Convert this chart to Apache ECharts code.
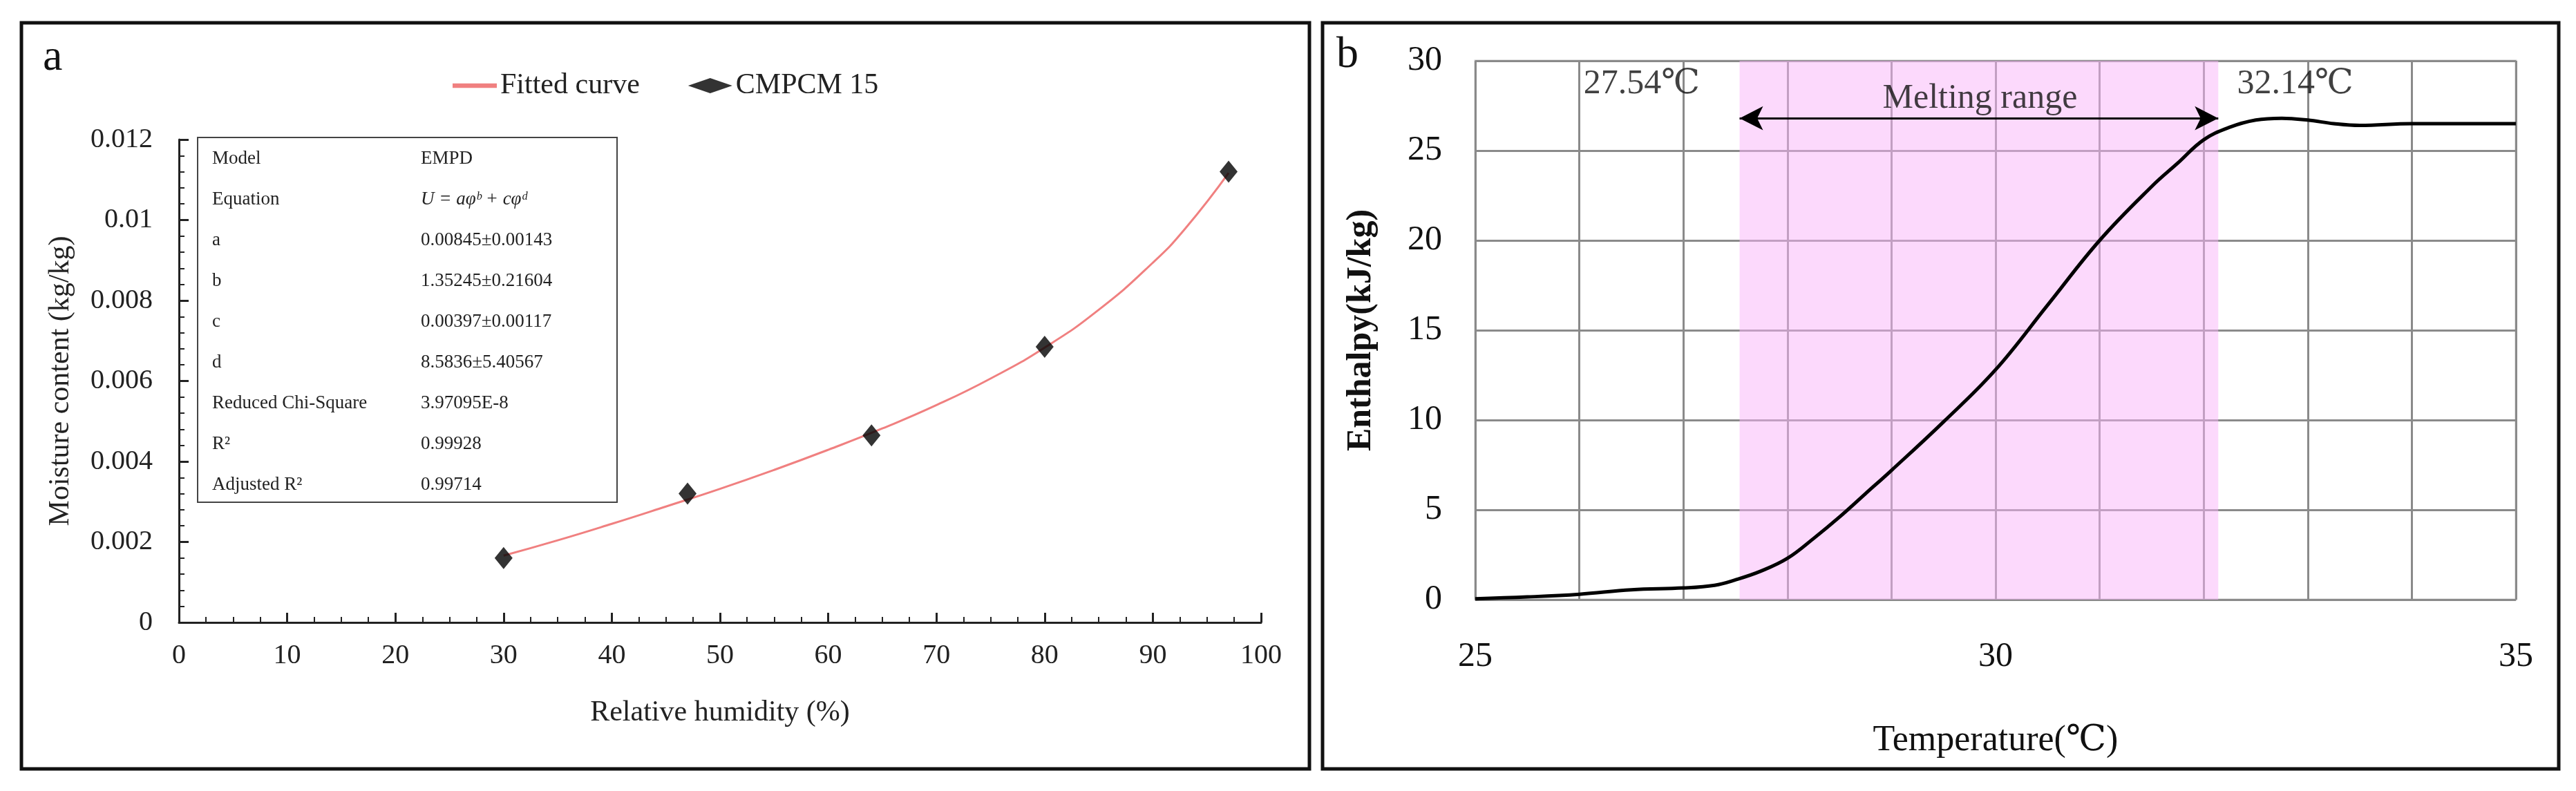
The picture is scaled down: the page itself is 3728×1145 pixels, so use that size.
<!DOCTYPE html>
<html><head><meta charset="utf-8">
<script src="https://cdn.jsdelivr.net/npm/echarts@6/dist/echarts.min.js"></script>
<style>html,body{margin:0;padding:0;background:#fff}#c{width:3728px;height:1145px}</style>
</head><body><div id="c"></div>
<script>
// Panel a data
const rhPoints = [30, 47, 64, 80, 97];
const moisture = [0.0016, 0.0032, 0.00465, 0.00685, 0.0112];
const fitX = [30, 35, 40, 45, 50, 55, 60, 65, 70, 75, 80, 85, 90, 93, 97];
const fitY = [0.00166, 0.00204, 0.00245, 0.00288, 0.00332, 0.00379, 0.00429, 0.00482, 0.0054, 0.00606, 0.00683, 0.00777, 0.00894, 0.00979, 0.01117];
const tableRows = [["Model","EMPD"],["Equation","U = aφ\u1D47 + cφ\u1D48"],["a","0.00845±0.00143"],["b","1.35245±0.21604"],["c","0.00397±0.00117"],["d","8.5836±5.40567"],["Reduced Chi-Square","3.97095E-8"],["R²","0.99928"],["Adjusted R²","0.99714"]];
// Panel b data
const tempX = [25, 25.5, 26, 26.5, 27, 27.3, 27.5, 27.75, 28, 28.25, 28.5, 28.75, 29, 29.5, 30, 30.5, 31, 31.5, 31.75, 32, 32.25, 32.5, 32.75, 33, 33.25, 33.5, 34, 35];
const enthalpy = [0.05, 0.15, 0.3, 0.55, 0.65, 0.8, 1.1, 1.6, 2.3, 3.4, 4.6, 5.9, 7.2, 9.9, 12.8, 16.4, 20.0, 23.0, 24.3, 25.6, 26.3, 26.7, 26.8, 26.7, 26.5, 26.4, 26.5, 26.5];
const meltStart = 27.54, meltEnd = 32.14;

const F = '"Liberation Serif","DejaVu Serif",serif';
const chart = echarts.init(document.getElementById('c'));
const tableGraphics = [];
tableRows.forEach((r, i) => {
  tableGraphics.push({type:'text', left:307, top:216 + i*59, style:{text:r[0], font:'27px '+F, fill:'#222'}});
  tableGraphics.push({type:'text', left:609, top:216 + i*59, style:{text:r[1], font:(i===1?'italic ':'')+'27px '+F, fill:'#222'}});
});
chart.setOption({
  animation:false,
  graphic:[
    {type:'rect', shape:{x:31,y:33,width:1864,height:1080}, style:{fill:'none', stroke:'#111', lineWidth:5}},
    {type:'rect', shape:{x:1914,y:33,width:1789,height:1080}, style:{fill:'none', stroke:'#111', lineWidth:5}},
    {type:'text', left:62, top:52, style:{text:'a', font:'64px '+F, fill:'#111'}},
    {type:'text', left:1934, top:48, style:{text:'b', font:'64px '+F, fill:'#111'}},
    {type:'rect', shape:{x:286,y:199,width:607,height:528}, style:{fill:'#fff', stroke:'#444', lineWidth:2}},
    ...tableGraphics
  ],
  legend:{left:650, top:98, itemGap:70, itemHeight:22,
    textStyle:{fontFamily:F, fontSize:42, color:'#222'},
    data:[{name:'Fitted curve', icon:'path://M0,0L10,0L10,1L0,1Z', itemStyle:{}}, {name:'CMPCM 15', icon:'diamond'}],
    itemWidth:64},
  grid:[
    {left:259, top:202, width:1566, height:699},
    {left:2135, top:88, width:1506, height:780, show:true, borderColor:'#c8c8c8', borderWidth:3, backgroundColor:'#fff'}
  ],
  xAxis:[
    {gridIndex:0, type:'value', min:0, max:100, interval:10,
     name:'Relative humidity (%)', nameLocation:'middle', nameGap:110, nameTextStyle:{fontFamily:F, fontSize:42, color:'#222'},
     axisLine:{lineStyle:{color:'#222', width:3}}, axisTick:{inside:true, length:14, lineStyle:{color:'#222', width:3}},
     minorTick:{show:true, splitNumber:4, length:8, lineStyle:{color:'#222', width:2}},
     axisLabel:{fontFamily:F, fontSize:40, color:'#222', margin:28}, splitLine:{show:false}},
    {gridIndex:1, type:'value', min:25, max:35, interval:1,
     name:'Temperature(℃)', nameLocation:'middle', nameGap:178, nameTextStyle:{fontFamily:F, fontSize:52, color:'#111'},
     axisLine:{show:false}, axisTick:{show:false},
     axisLabel:{fontFamily:F, fontSize:50, color:'#111', margin:58, formatter:v => (v % 5 === 0 ? String(v) : '')},
     splitLine:{show:true, lineStyle:{color:'#8a8a8a', width:3}}}
  ],
  yAxis:[
    {gridIndex:0, type:'value', min:0, max:0.012, interval:0.002,
     name:'Moisture content (kg/kg)', nameLocation:'middle', nameGap:150, nameTextStyle:{fontFamily:F, fontSize:42, color:'#222'},
     axisLine:{show:true, lineStyle:{color:'#222', width:3}}, axisTick:{inside:true, length:14, lineStyle:{color:'#222', width:3}},
     minorTick:{show:true, splitNumber:5, length:8, lineStyle:{color:'#222', width:2}},
     axisLabel:{fontFamily:F, fontSize:40, color:'#222', margin:38}, splitLine:{show:false}},
    {gridIndex:1, type:'value', min:0, max:30, interval:5,
     name:'Enthalpy(kJ/kg)', nameLocation:'middle', nameGap:140, nameTextStyle:{fontFamily:F, fontSize:50, fontWeight:'bold', color:'#111'},
     axisLine:{show:false}, axisTick:{show:false},
     axisLabel:{fontFamily:F, fontSize:50, color:'#111', margin:48},
     splitLine:{show:true, lineStyle:{color:'#8a8a8a', width:3}}}
  ],
  series:[
    {name:'Fitted curve', type:'line', xAxisIndex:0, yAxisIndex:0, smooth:true, showSymbol:false,
     lineStyle:{color:'#f08080', width:3}, itemStyle:{color:'#f08080'},
     data:fitX.map((x,i)=>[x,fitY[i]]), z:2},
    {name:'CMPCM 15', type:'scatter', xAxisIndex:0, yAxisIndex:0, symbol:'diamond', symbolSize:[26,32],
     itemStyle:{color:'#000'}, data:rhPoints.map((x,i)=>[x,moisture[i]]), z:3},
    {name:'Enthalpy', type:'line', xAxisIndex:1, yAxisIndex:1, smooth:0.4, showSymbol:false,
     lineStyle:{color:'#000', width:5}, data:tempX.map((x,i)=>[x,enthalpy[i]]), z:3,
     markArea:{silent:true, itemStyle:{color:'rgba(250,180,250,0.5)'}, data:[[{xAxis:meltStart},{xAxis:meltEnd}]]},
     markLine:{silent:true, symbol:['arrow','arrow'], symbolSize:[26,34], label:{show:false},
       lineStyle:{color:'#000', width:3, type:'solid'},
       data:[[{coord:[meltStart,26.8]},{coord:[meltEnd,26.8]}]]}
    },
    {name:'labels', type:'scatter', xAxisIndex:1, yAxisIndex:1, symbolSize:0, silent:true, z:5,
     label:{show:true, position:'inside', fontFamily:F, fontSize:50, color:'#111', formatter:p=>p.data[2]},
     data:[[26.6,28.7,meltStart.toFixed(2)+'℃'],[32.88,28.7,meltEnd.toFixed(2)+'℃'],[29.85,27.9,'Melting range']]}
  ]
});
</script></body></html>
